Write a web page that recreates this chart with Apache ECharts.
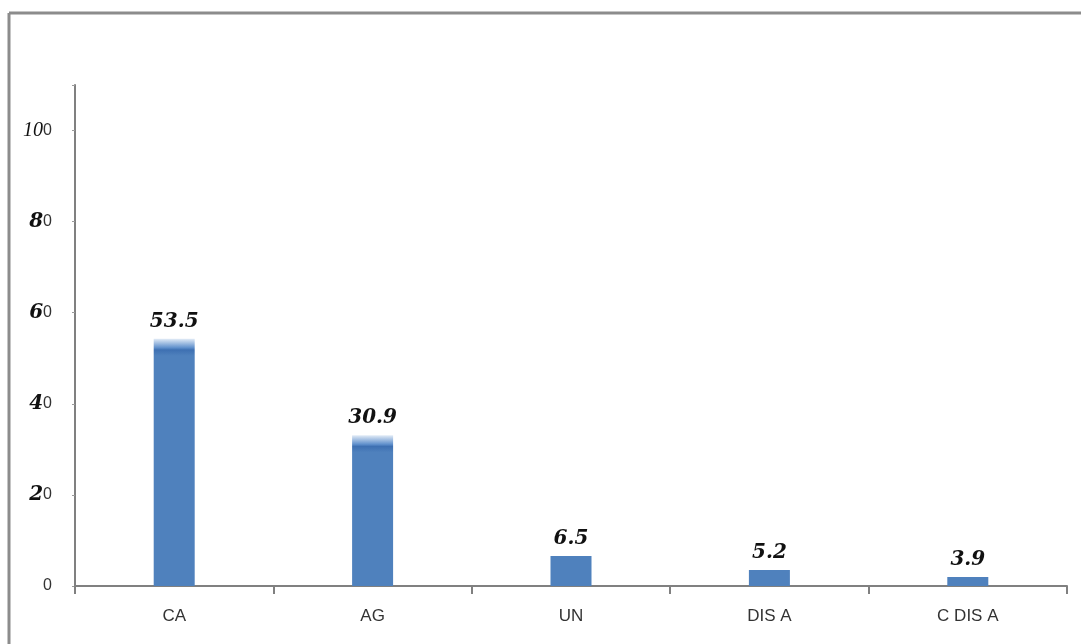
<!DOCTYPE html>
<html>
<head>
<meta charset="utf-8">
<script src="https://cdn.jsdelivr.net/npm/echarts@6/dist/echarts.min.js"></script>
<style>
html,body{margin:0;padding:0;background:#fff;}
#chart{width:1081px;height:644px;}
</style>
</head>
<body>
<div id="chart"></div>
<script>
const categories = ['CA', 'AG', 'UN', 'DIS A', 'C DIS A'];
// bar heights as drawn in the picture
const barValues = [54.3, 33.1, 6.6, 3.5, 2.0];
// value labels as printed above the bars
const labelTexts = ['53.5', '30.9', '6.5', '5.2', '3.9'];
const yTicks = [0, 20, 40, 60, 80, 100];

const chart = echarts.init(document.getElementById('chart'));
const blue = '#4f81bd';

function barStyle(v) {
  if (v < 20) return { color: blue };
  const frac = 9 / (v * 4.55);
  return {
    color: {
      type: 'linear', x: 0, y: 0, x2: 0, y2: 1,
      colorStops: [
        { offset: 0, color: '#e3ecf7' },
        { offset: frac, color: '#6090cc' },
        { offset: frac * 1.25, color: '#3e70b2' },
        { offset: frac * 1.9, color: blue },
        { offset: 1, color: blue }
      ]
    }
  };
}

chart.setOption({
  animation: false,
  backgroundColor: '#ffffff',
  graphic: [
    { type: 'line', shape: { x1: 9, y1: 13, x2: 9, y2: 644 }, style: { stroke: '#8c8c8c', lineWidth: 3 } },
    { type: 'line', shape: { x1: 9, y1: 13, x2: 1081, y2: 13 }, style: { stroke: '#8c8c8c', lineWidth: 3 } }
  ],
  grid: { left: 75, right: 14, top: 85, bottom: 58, containLabel: false },
  xAxis: {
    type: 'category',
    data: categories,
    axisLine: { lineStyle: { color: '#808080', width: 2 } },
    axisTick: { show: true, length: 8, lineStyle: { color: '#808080', width: 2 } },
    axisLabel: { color: '#333', fontFamily: 'Liberation Sans', fontSize: 17, margin: 22 }
  },
  yAxis: {
    type: 'value',
    min: 0, max: 110, interval: 20,
    splitLine: { show: false },
    axisLine: { show: true, lineStyle: { color: '#808080', width: 2 } },
    axisTick: { show: true, length: 3, lineStyle: { color: '#9a9a9a', width: 1 } },
    axisLabel: {
      margin: 23,
      formatter: function (v) {
        if (yTicks.indexOf(v) < 0) return '';
        const s = String(v);
        if (v === 0) return '{s|0}';
        if (v === 100) return '{t|10}{s|0}';
        return '{b|' + s.slice(0, -1) + '}{s|0}';
      },
      rich: {
        s: { fontFamily: 'Liberation Sans', fontSize: 16, color: '#333' },
        t: { fontFamily: 'Liberation Serif', fontStyle: 'italic', fontSize: 20, color: '#111' },
        b: { fontFamily: 'DejaVu Serif', fontStyle: 'italic', fontWeight: 'bold', fontSize: 20, color: '#111' }
      }
    }
  },
  series: [{
    type: 'bar',
    barWidth: 41,
    data: barValues.map(v => ({ value: v, itemStyle: barStyle(v) })),
    label: {
      show: true,
      position: 'top',
      distance: 7,
      formatter: p => labelTexts[p.dataIndex],
      fontFamily: 'DejaVu Serif',
      fontStyle: 'italic',
      fontWeight: 'bold',
      fontSize: 20,
      color: '#111'
    }
  }]
});
</script>
</body>
</html>
